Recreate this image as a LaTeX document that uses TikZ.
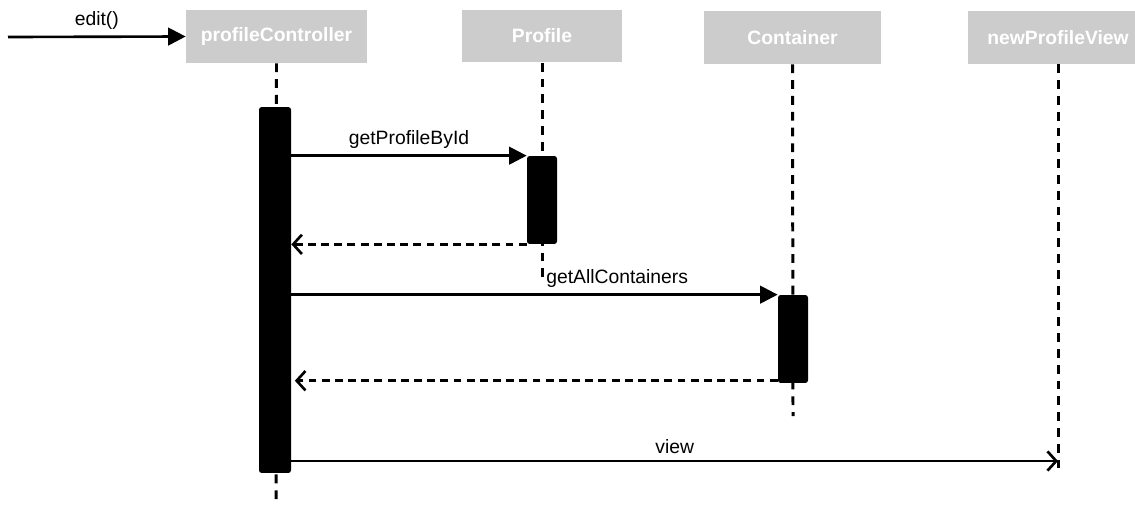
\documentclass[tikz,border=0pt]{standalone}
\usepackage{fontspec}
\setmainfont{Liberation Sans}
\usepackage{tikz}
\definecolor{boxgray}{HTML}{CCCCCC}
\usetikzlibrary{arrows.meta}

\begin{document}
\begin{tikzpicture}[x=0.02cm, y=-0.02cm,
	object/.style={rectangle, fill=boxgray, text=white, font=\bfseries\fontsize{11}{13}\selectfont, minimum height=1.06cm, inner sep=0pt},
	activation/.style={rectangle, fill=black, rounded corners=1.5pt, minimum width=0.6cm, inner sep=0pt},
	lifeline/.style={line width=1.7pt, dash pattern=on 5pt off 4pt},
	call/.style={line width=1.5pt, -{Triangle[length=10pt, width=10pt]}},
	reply/.style={line width=1.5pt, dash pattern=on 4.5pt off 3pt, -{Straight Barb[length=5pt, width=11pt]}},
	msg/.style={font=\fontsize{11}{13}\selectfont, above}]
	\useasboundingbox (0,0) rectangle (1135,504);
	\clip (0,0) rectangle (1135,504);
	\node[object, minimum width=3.62cm] (PC) at (276.5,36.5) {profileController};
	\node[object, minimum width=3.2cm] (P) at (542,36) {Profile};
	\node[object, minimum width=3.56cm] (C) at (792.5,37.5) {Container};
	\node[object, minimum width=3.6cm] (V) at (1058,37.5) {newProfileView};
	\coordinate (start) at (8,37);
	\coordinate (PCend) at (276,504);
	\coordinate (Pend) at (542,280);
	\coordinate (Cend) at (793,416);
	\coordinate (Vend) at (1058,470);
	\coordinate (Vcall) at (1058,461);
	% lifelines
	\draw[lifeline] (PC.south) -- (PCend);
	\draw[lifeline] (P.south) -- (Pend);
	\draw[lifeline] (C.south) -- (Cend);
	\draw[lifeline] (V.south) -- (Vend);
	\node[activation, minimum width=0.64cm, minimum height=7.32cm] (APC) at (275,290) {};
	\node[activation, minimum height=1.76cm] (AP) at (542,200) {};
	\node[activation, minimum height=1.76cm] (AC) at (793,339) {};
	% messages
	\path[call] (start) edge node[msg] {edit()} (PC.west);
	\path[call] (APC.east |- AP.north) edge node[msg] {getProfileById} (AP.north west);
	\path[reply] (AP.south west) edge (APC.east |- AP.south);
	\path[call] (APC.east |- AC.north) edge node[msg, pos=0.67] {getAllContainers} (AC.north west);
	\path[reply] ([yshift=1.5pt]AC.south west) edge ([xshift=2pt, yshift=1.5pt]APC.east |- AC.south);
	\path[call, -{Straight Barb[length=5pt, width=11pt]}] (APC.east |- Vcall) edge node[msg] {view} (Vcall);
\end{tikzpicture}
\end{document}
